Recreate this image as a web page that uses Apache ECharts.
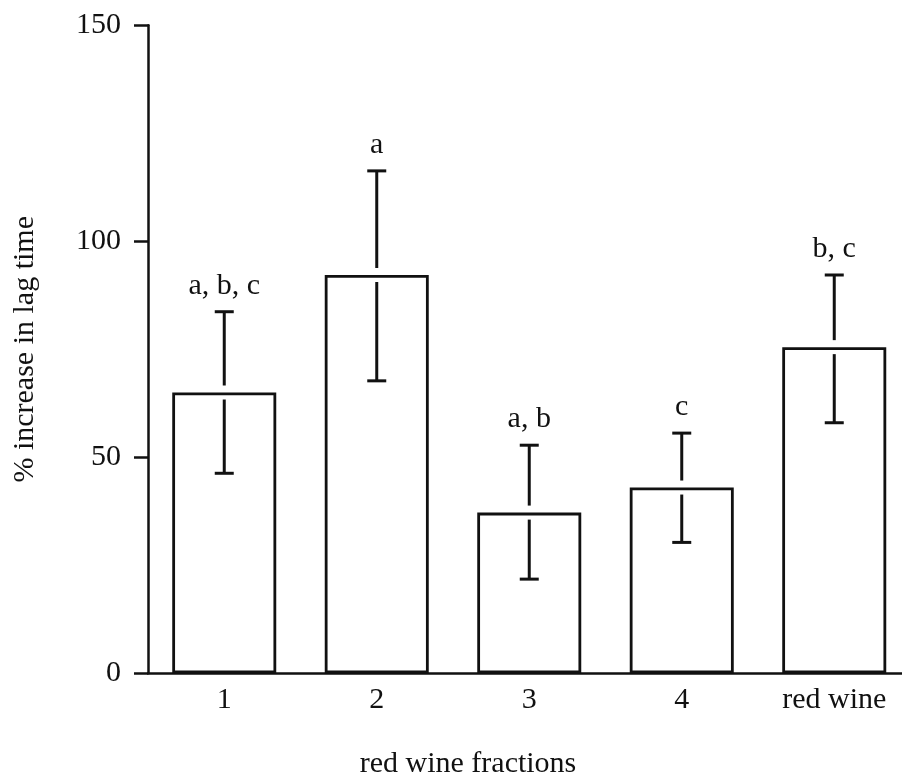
<!DOCTYPE html>
<html>
<head>
<meta charset="utf-8">
<script src="https://cdn.jsdelivr.net/npm/echarts@6/dist/echarts.min.js"></script>
<style>
  html, body { margin: 0; padding: 0; background: #fff; }
  #chart { width: 902px; height: 779px; }
</style>
</head>
<body>
<div id="chart"></div>
<script>
// Red wine fractions: % increase in LDL oxidation lag time, mean with error bars
const categories = ['1', '2', '3', '4', 'red wine'];
const means = [65, 92.2, 37.2, 43.0, 75.5];
const upper = [83.7, 116.3, 52.8, 55.6, 92.2];
const lower = [46.3, 67.7, 21.8, 30.3, 58.0];
const letters = ['a, b, c', 'a', 'a, b', 'c', 'b, c'];
const yTicks = [0, 50, 100, 150];

const FONT = '"Liberation Serif", "DejaVu Serif", serif';
const INK = '#111111';
const FS = 30;

const chart = echarts.init(document.getElementById('chart'), null, { renderer: 'canvas' });

const errData = categories.map((c, i) => [i, means[i], upper[i], lower[i], letters[i]]);

chart.setOption({
  animation: false,
  backgroundColor: '#ffffff',
  title: {
    text: 'red wine fractions',
    left: 463,
    top: 744,
    textAlign: 'center',
    textStyle: { fontFamily: FONT, fontSize: FS, fontWeight: 'normal', color: INK }
  },
  // the last category band runs a little past the right edge of the canvas
  grid: {
    left: 148, top: 25.3, bottom: 105.7, width: 762.5,
    containLabel: false, outerBoundsMode: 'none'
  },
  xAxis: {
    type: 'category',
    data: categories,
    axisLine: { lineStyle: { color: INK, width: 2.5 } },
    axisTick: { alignWithLabel: true, length: 10, lineStyle: { color: INK, width: 2.5 } },
    axisLabel: { fontFamily: FONT, fontSize: FS, color: INK, margin: 12 },
    splitLine: { show: false }
  },
  yAxis: {
    type: 'value',
    min: yTicks[0],
    max: yTicks[yTicks.length - 1],
    interval: 50,
    name: '% increase in lag time',
    nameLocation: 'middle',
    nameGap: 108,
    nameTextStyle: { fontFamily: FONT, fontSize: FS, color: INK },
    axisLine: { show: true, lineStyle: { color: INK, width: 2.5 } },
    axisTick: { show: true, length: 14, lineStyle: { color: INK, width: 2.5 } },
    axisLabel: { fontFamily: FONT, fontSize: FS, color: INK, margin: 27 },
    splitLine: { show: false }
  },
  series: [
    {
      type: 'bar',
      data: means,
      barWidth: 104,
      itemStyle: { color: '#ffffff', borderColor: INK, borderWidth: 2.8 },
      z: 2
    },
    {
      type: 'custom',
      data: errData,
      z: 3,
      renderItem: function (params, api) {
        const x = api.value(0);
        const top = api.coord([x, api.value(2)]);
        const bot = api.coord([x, api.value(3)]);
        const mid = api.coord([x, api.value(1)]);
        const cx = top[0];
        const half = 9.5;
        const gap = 7;
        const style = { stroke: INK, lineWidth: 3 };
        return {
          type: 'group',
          children: [
            { type: 'line', shape: { x1: cx - half, y1: top[1], x2: cx + half, y2: top[1] }, style: style },
            { type: 'line', shape: { x1: cx, y1: top[1], x2: cx, y2: mid[1] - gap }, style: style },
            { type: 'line', shape: { x1: cx, y1: mid[1] + gap, x2: cx, y2: bot[1] }, style: style },
            { type: 'line', shape: { x1: cx - half, y1: bot[1], x2: cx + half, y2: bot[1] }, style: style },
            {
              type: 'text',
              style: {
                text: api.value(4),
                x: cx,
                y: top[1] - 11,
                align: 'center',
                verticalAlign: 'bottom',
                font: FS + 'px ' + FONT,
                fill: INK
              }
            }
          ]
        };
      }
    }
  ]
});
</script>
</body>
</html>
